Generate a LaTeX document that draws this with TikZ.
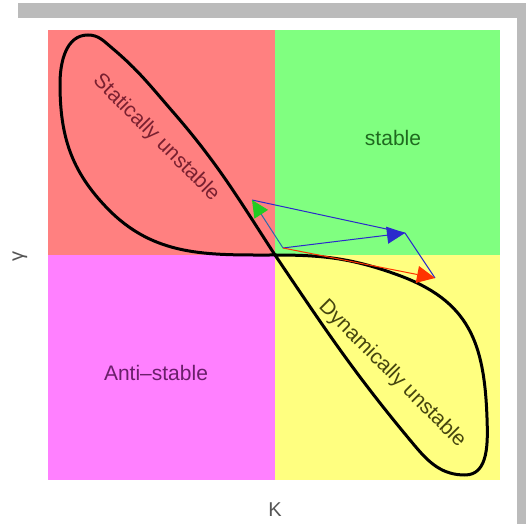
\documentclass[tikz,border=0pt]{standalone}
\usepackage{fontspec}
\setmainfont{Liberation Sans}
\usetikzlibrary{arrows.meta}
\definecolor{qred}{HTML}{FF8080}
\definecolor{qgreen}{HTML}{80FF80}
\definecolor{qmag}{HTML}{FF80FF}
\definecolor{qyel}{HTML}{FFFF80}
\definecolor{framegray}{HTML}{BBBBBB}
\definecolor{stattxt}{HTML}{7A2030}
\definecolor{dyntxt}{HTML}{45450F}
\definecolor{stabtxt}{HTML}{1F6A1F}
\definecolor{antitxt}{HTML}{6A1F6A}
\definecolor{axtxt}{HTML}{555555}
\definecolor{vgreen}{HTML}{22CC22}
\definecolor{vblue}{HTML}{2A2ACC}
\definecolor{vred}{HTML}{FF3300}
\definecolor{vteal}{HTML}{2A6AAA}
\begin{document}
\begin{tikzpicture}[x=1pt,y=1pt,
  lbl/.style={font=\fontsize{21}{25}\selectfont, inner sep=0pt},
  axlbl/.style={font=\fontsize{20}{24}\selectfont, inner sep=0pt, text=axtxt},
  curveln/.style={line width=3pt, line join=round, draw=black},
  edgeln/.style={line width=1pt, draw=vblue},
  vec/.style={line width=1pt}]
\useasboundingbox (0,0) rectangle (526,524);
\fill[white] (0,0) rectangle (526,524);
\fill[framegray] (18,506) rectangle (526,521);
\fill[framegray] (517,0) rectangle (526,521);
% quadrants
\fill[qred] (48,269) rectangle (275,494);
\fill[qgreen] (275,269) rectangle (500,494);
\fill[qmag] (48,44) rectangle (275,269);
\fill[qyel] (275,44) rectangle (500,269);
% figure-eight curve
\draw[curveln] (275,269) to[out=123,in=-49] (173,412) to[out=131,in=-40] (112,476)
  to[out=140,in=0] (88,489) to[out=180,in=90] (60,440) to[out=-90,in=134] (107,316)
  to[out=-46,in=180] (275,269);
\draw[curveln] (275,269) to[out=0,in=160] (398,249) to[out=-20,in=92,looseness=1.15] (487,106)
  to[out=-88,in=0] (465,49) to[out=180,in=-50] (415,78) to[out=130,in=-56] (275,269);
% labels
\node[lbl, text=stabtxt] (stable) at (393,386) {stable};
\node[lbl, text=antitxt] (anti) at (156,151) {Anti–stable};
\node[lbl, text=stattxt, rotate=-45] (stat) at (156,386) {Statically unstable};
\node[lbl, text=dyntxt, rotate=-45] (dyn) at (392,150) {Dynamically unstable};
\node[axlbl] (klbl) at (275,14) {K};
\node[axlbl, rotate=90] (glbl) at (20,267) {γ};
% vectors
\coordinate (P) at (283,276);
\coordinate (G) at (252,324);
\coordinate (B) at (405,291);
\coordinate (R) at (435,246);
\draw[edgeln] (G) -- (B);
\draw[edgeln] (B) -- (R);
\draw[vec, draw=vteal, -{Triangle[length=17pt,width=16pt,color=vgreen]}] (P) -- (G);
\draw[vec, draw=vblue, -{Triangle[length=18pt,width=17pt,color=vblue]}] (P) -- (B);
\draw[vec, draw=vred, -{Triangle[length=18pt,width=17pt,color=vred]}] (P) -- (R);
\end{tikzpicture}
\end{document}
